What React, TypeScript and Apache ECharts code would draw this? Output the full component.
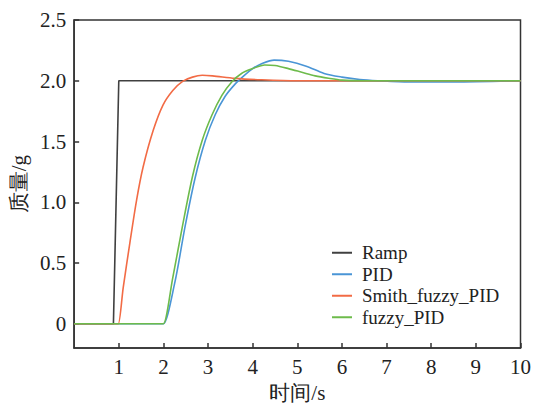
import React, { useEffect, useRef } from "react";
import * as echarts from "echarts";

const rampT = [0, 0.88, 1.0, 10];
const rampV = [0, 0, 2, 2];

const pidT = [0, 1.98, 2.0, 2.25, 2.49, 2.71, 2.94, 3.16, 3.38, 3.6, 3.8, 4.0, 4.2, 4.48, 4.8, 5.2, 5.6, 6.0, 6.4, 6.8, 7.5, 8.5, 10];
const pidV = [0, 0, 0, 0.33, 0.81, 1.2, 1.51, 1.72, 1.87, 1.97, 2.04, 2.1, 2.14, 2.17, 2.16, 2.12, 2.06, 2.03, 2.01, 2.0, 1.99, 1.99, 2.0];

const smithT = [0, 0.97, 0.99, 1.1, 1.25, 1.4, 1.545, 1.77, 1.99, 2.21, 2.43, 2.65, 2.87, 3.1, 3.6, 4.2, 5.0, 10];
const smithV = [0, 0, 0, 0.3, 0.67, 1.02, 1.29, 1.59, 1.8, 1.92, 1.995, 2.03, 2.045, 2.04, 2.02, 2.008, 2.0, 2.0];

const fuzzyT = [0, 1.98, 2.0, 2.21, 2.43, 2.65, 2.87, 3.09, 3.31, 3.53, 3.75, 4.0, 4.27, 4.5, 4.8, 5.1, 5.4, 5.7, 6.0, 6.5, 10];
const fuzzyV = [0, 0, 0, 0.38, 0.81, 1.21, 1.51, 1.72, 1.88, 1.99, 2.06, 2.1, 2.13, 2.125, 2.1, 2.07, 2.04, 2.02, 2.005, 2.0, 2.0];

const seriesNames = ["Ramp", "PID", "Smith_fuzzy_PID", "fuzzy_PID"];
const colors = ["#404040", "#4a95d6", "#f26b45", "#6dbb4b"];
const yTicks = [0, 0.5, 1.0, 1.5, 2.0, 2.5];
const xTicks = [1, 2, 3, 4, 5, 6, 7, 8, 9, 10];

const zip = (t: number[], v: number[]) => t.map((x, i) => [x, v[i]]);

const FONT = "Liberation Serif";

export default function App() {
  const ref = useRef<HTMLDivElement>(null);
  useEffect(() => {
    if (!ref.current) return;
    const chart = echarts.init(ref.current, null, { renderer: "svg" });
    const datasets = [zip(rampT, rampV), zip(pidT, pidV), zip(smithT, smithV), zip(fuzzyT, fuzzyV)];
    chart.setOption({
      animation: false,
      backgroundColor: "#ffffff",
      grid: {
        left: 70,
        right: 10,
        top: 20,
        bottom: 53,
        show: true,
        borderColor: "#333",
        borderWidth: 1.5,
        containLabel: false,
      },
      legend: {
        orient: "vertical",
        left: 327,
        top: 237,
        itemWidth: 20,
        itemHeight: 2,
        itemGap: 0,
        icon: "rect",
        data: seriesNames,
        textStyle: {
          fontFamily: FONT,
          fontSize: 19,
          lineHeight: 21.5,
          color: "#222",
          padding: [0, 0, 0, 5],
        },
      },
      xAxis: {
        type: "value",
        min: 0,
        max: 10,
        interval: 1,
        name: "时间/s",
        nameLocation: "middle",
        nameGap: 32,
        nameTextStyle: { fontFamily: FONT, fontSize: 21, color: "#222" },
        axisLine: { show: true, onZero: false, lineStyle: { color: "#333", width: 1.5 } },
        axisTick: { show: true, inside: true, length: 5, lineStyle: { color: "#333", width: 1.5 }, customValues: xTicks },
        axisLabel: {
          fontFamily: FONT,
          fontSize: 21,
          color: "#222",
          margin: 8,
          customValues: xTicks,
        },
        splitLine: { show: false },
      },
      yAxis: {
        type: "value",
        min: -0.2,
        max: 2.5,
        name: "质量/g",
        nameLocation: "middle",
        nameGap: 45,
        nameTextStyle: { fontFamily: FONT, fontSize: 21, color: "#222" },
        axisLine: { show: true, onZero: false, lineStyle: { color: "#333", width: 1.5 } },
        axisTick: { show: true, inside: true, length: 5, lineStyle: { color: "#333", width: 1.5 }, customValues: yTicks },
        axisLabel: {
          fontFamily: FONT,
          fontSize: 21,
          color: "#222",
          margin: 8,
          customValues: yTicks,
          formatter: (v: number) => (v === 0 ? "0" : v.toFixed(1)),
        },
        splitLine: { show: false },
      },
      series: seriesNames.map((name, i) => ({
        name,
        type: "line",
        data: datasets[i],
        showSymbol: false,
        symbol: "none",
        smooth: i === 0 ? false : 0.3,
        color: colors[i],
        lineStyle: { color: colors[i], width: 1.6 },
      })),
    });
    return () => chart.dispose();
  }, []);
  return (
    <div
      ref={ref}
      style={{ position: "fixed", left: 0, top: 0, width: 534, height: 408, background: "#fff" }}
    />
  );
}
